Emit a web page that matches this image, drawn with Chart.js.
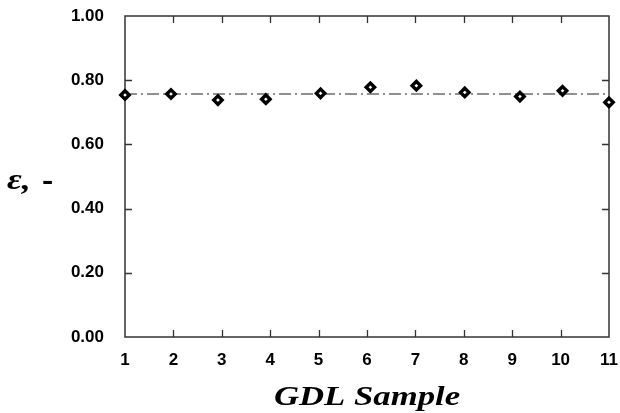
<!DOCTYPE html>
<html>
<head>
<meta charset="utf-8">
<script src="https://cdn.jsdelivr.net/npm/chart.js@4.4.1/dist/chart.umd.min.js"></script>
<style>
  html, body { margin: 0; padding: 0; background: #fff; }
  #wrap { width: 620px; height: 413px; }
</style>
</head>
<body>
<div id="wrap"><canvas id="c" width="620" height="413"></canvas></div>
<script>
// GDL sample positions and measured porosity
const sampleX = [1.0, 1.95, 2.92, 3.91, 5.04, 6.07, 7.02, 8.02, 9.16, 10.04, 11.0];
const porosity = [0.754, 0.757, 0.738, 0.741, 0.759, 0.778, 0.783, 0.762, 0.749, 0.767, 0.731];
// average porosity shown as the dash-dot reference line
const meanX = [1, 11];
const meanPorosity = 0.757;
const xTickValues = [1, 2, 3, 4, 5, 6, 7, 8, 9, 10, 11];
const yTickValues = [0, 0.2, 0.4, 0.6, 0.8, 1.0];
const xTitle = 'GDL Sample';

const tickFont = { family: 'Liberation Sans', size: 17, weight: 'bold' };

// draw text squeezed/stretched horizontally around an anchor point
function stretchedText(ctx, text, x, y, sx) {
  ctx.save();
  ctx.translate(x, y);
  ctx.scale(sx, 1);
  ctx.fillText(text, 0, 0);
  ctx.restore();
}

// frame around the plot, inward tick marks on all four sides, axis titles
const framePlugin = {
  id: 'frame',
  beforeDatasetsDraw(chart) {
    const { ctx, chartArea: a, scales } = chart;
    ctx.save();
    ctx.strokeStyle = '#333';
    ctx.lineWidth = 1.5;
    ctx.strokeRect(a.left, a.top, a.right - a.left, a.bottom - a.top);
    ctx.lineWidth = 1.3;
    const L = 7;
    ctx.beginPath();
    xTickValues.slice(1, -1).forEach(v => {
      const px = Math.round(scales.x.getPixelForValue(v)) + 0.5;
      ctx.moveTo(px, a.bottom); ctx.lineTo(px, a.bottom - L);
      ctx.moveTo(px, a.top); ctx.lineTo(px, a.top + L);
    });
    yTickValues.slice(1, -1).forEach(v => {
      const py = Math.round(scales.y.getPixelForValue(v)) + 0.5;
      ctx.moveTo(a.left, py); ctx.lineTo(a.left + L, py);
      ctx.moveTo(a.right, py); ctx.lineTo(a.right - L, py);
    });
    ctx.stroke();

    ctx.fillStyle = '#000';
    ctx.textBaseline = 'alphabetic';
    ctx.textAlign = 'center';
    ctx.font = 'italic bold 28px "Liberation Serif"';
    stretchedText(ctx, xTitle, (a.left + a.right) / 2, 405, 1.24);

    ctx.textAlign = 'left';
    ctx.font = 'italic bold 30px "Liberation Serif"';
    stretchedText(ctx, '\u03B5,', 7, 189, 1.2);
    ctx.font = 'bold 26px "Liberation Sans"';
    stretchedText(ctx, '-', 42, 189, 1.3);
    ctx.restore();
  }
};

new Chart(document.getElementById('c'), {
  type: 'scatter',
  data: {
    datasets: [
      {
        data: sampleX.map((x, i) => ({ x, y: porosity[i] })),
        pointStyle: 'rectRot',
        pointRadius: 4.2,
        pointBorderWidth: 3.4,
        borderColor: '#000',
        backgroundColor: '#fff',
        showLine: false,
        clip: false,
        order: 0
      },
      {
        data: meanX.map(x => ({ x, y: meanPorosity })),
        showLine: true,
        pointRadius: 0,
        borderColor: '#222',
        borderWidth: 1.2,
        borderDash: [12, 4, 2, 4],
        order: 1
      }
    ]
  },
  options: {
    responsive: false,
    animation: false,
    events: [],
    layout: { padding: { top: 16, right: 11, left: 0, bottom: 0 } },
    plugins: { legend: { display: false }, tooltip: { enabled: false } },
    scales: {
      x: {
        type: 'linear',
        min: 1, max: 11,
        afterFit(s) { s.height = 76; s.paddingLeft = 0; s.paddingRight = 0; },
        afterBuildTicks(s) { s.ticks = xTickValues.map(v => ({ value: v })); },
        grid: { display: false, drawTicks: false },
        border: { display: false },
        ticks: { color: '#000', font: tickFont, padding: 13, maxRotation: 0,
                 callback: v => String(v) }
      },
      y: {
        type: 'linear',
        min: 0, max: 1,
        afterFit(s) { s.width = 125; s.paddingTop = 0; s.paddingBottom = 0; },
        afterBuildTicks(s) { s.ticks = yTickValues.map(v => ({ value: v })); },
        grid: { display: false, drawTicks: false },
        border: { display: false },
        ticks: { color: '#000', font: tickFont, padding: 21,
                 callback: v => v.toFixed(2) }
      }
    }
  },
  plugins: [framePlugin]
});
</script>
</body>
</html>
